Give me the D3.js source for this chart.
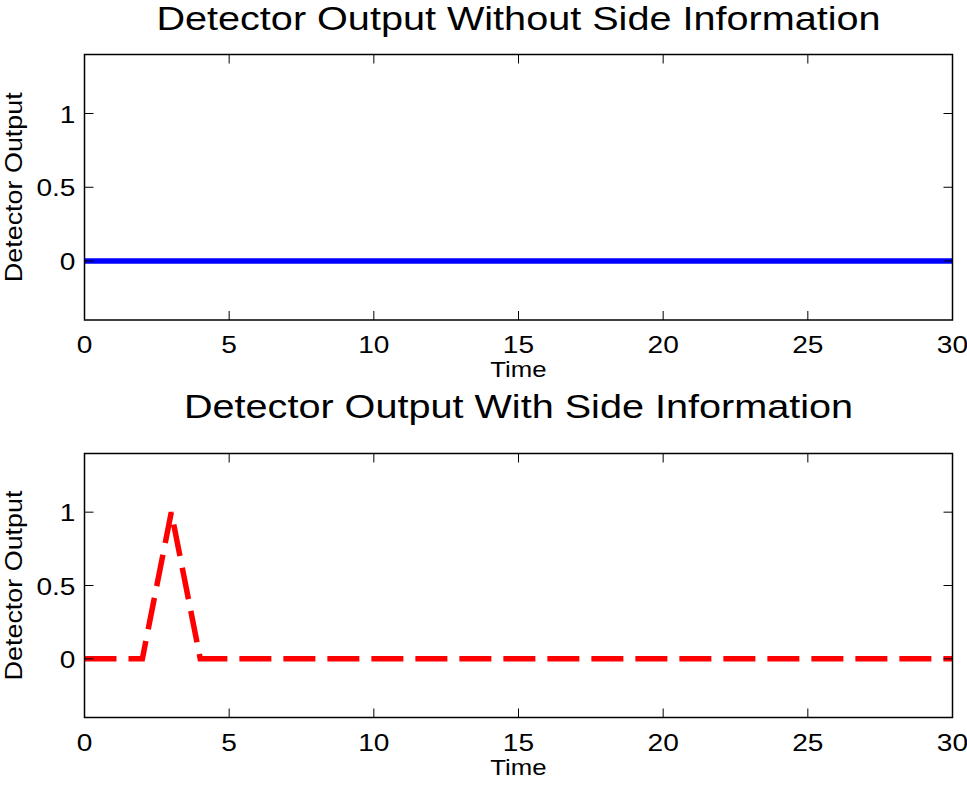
<!DOCTYPE html>
<html><head><meta charset="utf-8">
<script src="https://cdn.jsdelivr.net/npm/d3@7"></script>
<style>body{margin:0;background:#fff}svg{display:block}text{font-family:"Liberation Sans",Arial,Helvetica,sans-serif;fill:#000}</style>
</head><body>
<script>
const time = d3.range(0, 31);
const withoutSide = [0,0,0,0,0,0,0,0,0,0,0,0,0,0,0,0,0,0,0,0,0,0,0,0,0,0,0,0,0,0,0];
const withSide = [0,0,0,1,0,0,0,0,0,0,0,0,0,0,0,0,0,0,0,0,0,0,0,0,0,0,0,0,0,0,0];
const xTicks = [0,5,10,15,20,25,30];
const yTicks = [0,0.5,1];
const titles = ["Detector Output Without Side Information","Detector Output With Side Information"];

const W = 967, H = 785;
const svg = d3.select("body").append("svg").attr("width", W).attr("height", H);

const panels = [
  {top:54.5, bottom:320, data:withoutSide, color:"#0000ff", dash:null, title:titles[0], titleY:30},
  {top:453.5, bottom:717.5, data:withSide, color:"#ff0000", dash:"32,12", title:titles[1], titleY:418}
];
const left = 84.5, right = 952.5;

panels.forEach(p => {
  const x = d3.scaleLinear().domain([0,30]).range([left,right]);
  const y = d3.scaleLinear().domain([-0.4,1.4]).range([p.bottom,p.top]);
  const g = svg.append("g");
  const tl = 9;
  const line = d3.line().x((d,i)=>x(time[i])).y(d=>y(d));
  const path = g.append("path").datum(p.data).attr("d",line).attr("fill","none")
    .attr("stroke",p.color).attr("stroke-width",5.5).attr("stroke-linejoin","miter");
  if (p.dash) path.attr("stroke-dasharray",p.dash);
  xTicks.forEach(t => {
    g.append("line").attr("x1",x(t)).attr("x2",x(t)).attr("y1",p.bottom).attr("y2",p.bottom-tl).attr("stroke","#000").attr("stroke-width",1);
    g.append("line").attr("x1",x(t)).attr("x2",x(t)).attr("y1",p.top).attr("y2",p.top+tl).attr("stroke","#000").attr("stroke-width",1);
    g.append("text").attr("class","st").attr("x",x(t)).attr("y",p.bottom+33).attr("text-anchor","middle").attr("font-size",24).text(t);
  });
  yTicks.forEach(t => {
    g.append("line").attr("x1",left).attr("x2",left+tl).attr("y1",y(t)).attr("y2",y(t)).attr("stroke","#000").attr("stroke-width",1);
    g.append("line").attr("x1",right).attr("x2",right-tl).attr("y1",y(t)).attr("y2",y(t)).attr("stroke","#000").attr("stroke-width",1);
    g.append("text").attr("class","st").attr("x",left-9).attr("y",y(t)+9).attr("text-anchor","end").attr("font-size",24).text(t);
  });
  g.append("rect").attr("x",left).attr("y",p.top).attr("width",right-left).attr("height",p.bottom-p.top)
    .attr("fill","none").attr("stroke","#000").attr("stroke-width",1.5);
  g.append("text").attr("class","tt").attr("x",(left+right)/2).attr("y",p.titleY).attr("text-anchor","middle").attr("font-size",33).text(p.title);
  g.append("text").attr("class","st").attr("x",(left+right)/2).attr("y",p.bottom+57).attr("text-anchor","middle").attr("font-size",22).text("Time");
  g.append("text").attr("class","st").attr("transform",`translate(22,${(p.top+p.bottom)/2}) rotate(-90)`).attr("text-anchor","middle").attr("font-size",23).text("Detector Output");
});
// reference glyphs are set wider than Liberation Sans
svg.selectAll("text.st").each(function(){
  const w = this.getComputedTextLength();
  d3.select(this).attr("textLength", w*1.17).attr("lengthAdjust","spacingAndGlyphs");
});
svg.selectAll("text.tt").each(function(){
  const w = this.getComputedTextLength();
  d3.select(this).attr("textLength", w*1.2).attr("lengthAdjust","spacingAndGlyphs");
});
</script>
</body></html>
